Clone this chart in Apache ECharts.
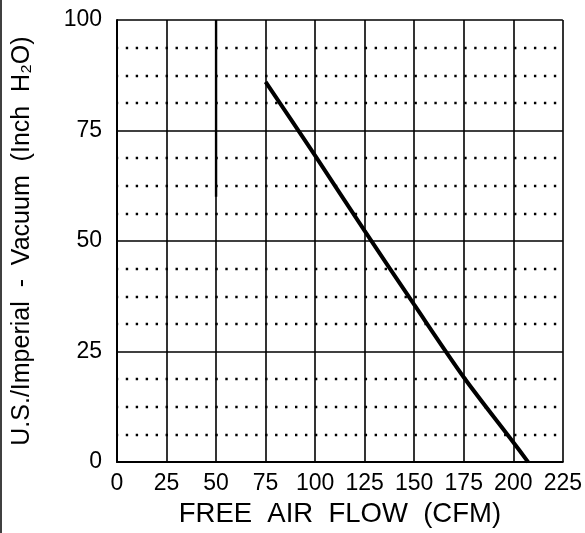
<!DOCTYPE html>
<html>
<head>
<meta charset="utf-8">
<script src="https://cdn.jsdelivr.net/npm/echarts@6/dist/echarts.min.js"></script>
<style>html,body{margin:0;padding:0;background:#fff}#c{width:585px;height:533px}</style>
</head>
<body>
<div id="c"></div>
<script>
// Data
const xTicks = [0, 25, 50, 75, 100, 125, 150, 175, 200, 225];
const yTicks = [0, 25, 50, 75, 100];
const flowCFM = [75, 100, 125, 150, 175, 200, 207.5];
const vacuumInH2O = [86, 69.3, 52.3, 35.6, 19.2, 4.5, 0];
const markerX = [50, 50];
const markerY = [60, 100];

const xTitle = 'FREE  AIR  FLOW  (CFM)';
const yTitle = 'U.S./Imperial  -  Vacuum  (Inch  H\u2082O)';

const chart = echarts.init(document.getElementById('c'), null, {renderer: 'canvas'});
const gridL = 117, gridR = 20, gridT = 20, gridB = 66;
const plotW = 585 - gridL - gridR;
const minorStep = plotW / 45; // pixel width of 5 CFM
const font = "'Liberation Sans', 'DejaVu Sans', sans-serif";

const option = {
  animation: false,
  backgroundColor: '#fff',
  grid: {left: gridL, right: gridR, top: gridT, bottom: gridB, containLabel: false},
  xAxis: {
    type: 'value', min: 0, max: 225, interval: 25,
    name: xTitle, nameLocation: 'middle', nameGap: 29,
    nameTextStyle: {fontFamily: font, fontSize: 27.5, color: '#000'},
    axisLine: {show: true, lineStyle: {color: '#000', width: 2}},
    axisTick: {show: false},
    axisLabel: {fontFamily: font, fontSize: 23, color: '#000', margin: 10,
      formatter: v => xTicks.includes(v) ? String(v) : ''},
    splitLine: {show: true, lineStyle: {color: '#000', width: 1.6}}
  },
  yAxis: {
    type: 'value', min: 0, max: 100, interval: 25,
    name: yTitle, nameLocation: 'middle', nameGap: 82, nameRotate: 90,
    nameTextStyle: {fontFamily: font, fontSize: 25, color: '#000'},
    axisLine: {show: true, lineStyle: {color: '#000', width: 2}},
    axisTick: {show: false},
    axisLabel: {fontFamily: font, fontSize: 23, color: '#000', margin: 15,
      formatter: v => yTicks.includes(v) ? String(v) : ''},
    splitLine: {show: true, lineStyle: {color: '#000', width: 1.6}},
    minorTick: {show: false, splitNumber: 4},
    minorSplitLine: {show: true, lineStyle: {color: '#000', width: 2.4,
      type: [2.4, minorStep - 2.4], dashOffset: 1.2}}
  },
  series: [
    {
      type: 'line', data: flowCFM.map((x, i) => [x, vacuumInH2O[i]]),
      showSymbol: false, symbol: 'none', smooth: 0.3,
      lineStyle: {color: '#000', width: 4}, z: 5
    },
    {
      type: 'line', data: markerX.map((x, i) => [x, markerY[i]]),
      showSymbol: false, symbol: 'none', lineStyle: {color: '#000', width: 2.4}, z: 4
    }
  ],
  graphic: [
    {type: 'line', shape: {x1: 1, y1: 0, x2: 1, y2: 533}, style: {stroke: '#000', lineWidth: 1.5}}
  ]
};
chart.setOption(option);
</script>
</body>
</html>
